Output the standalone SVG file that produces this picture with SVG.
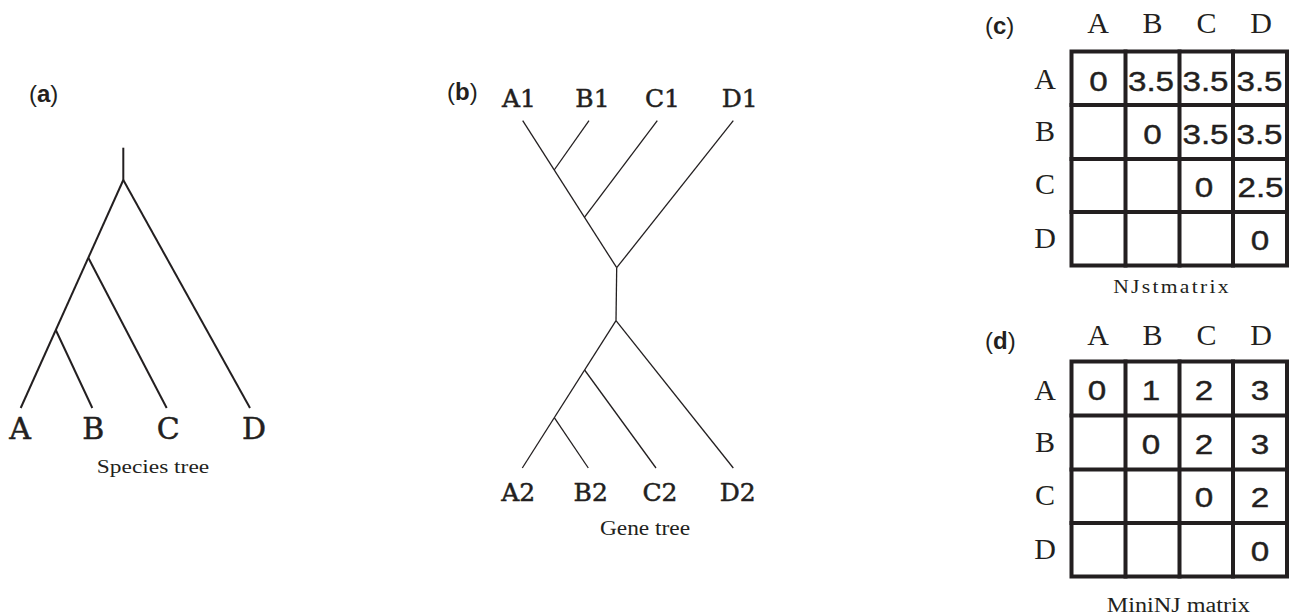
<svg xmlns="http://www.w3.org/2000/svg" width="1293" height="616" viewBox="0 0 1293 616">
  <style>
    .panel { font-family: "Liberation Sans", Arial, sans-serif; font-size: 24px; fill: #231f20; }
    .panel .b { font-weight: bold; }
    .tip { font-family: "DejaVu Serif", "Liberation Serif", serif; fill: #231f20; stroke: #231f20; stroke-width: 0.5; text-anchor: middle; }
    .cap { font-family: "Liberation Serif", "DejaVu Serif", serif; fill: #231f20; text-anchor: middle; }
    .hdr { font-family: "Liberation Serif", "DejaVu Serif", serif; font-size: 30px; fill: #231f20; text-anchor: middle; }
    .num { font-family: "Liberation Sans", Arial, sans-serif; font-size: 27px; fill: #231f20; stroke: #231f20; stroke-width: 0.4; text-anchor: middle; }
    .sp { stroke: #231f20; stroke-width: 2; fill: none; stroke-linecap: butt; }
    .gt { stroke: #231f20; stroke-width: 1.3; fill: none; }
    .grid { stroke: #231f20; stroke-width: 4; fill: none; stroke-linecap: square; }
  </style>

  <rect width="1293" height="616" fill="#ffffff"/>

  <!-- (a) species tree -->
  <g id="species-tree">
    <text class="panel" x="29" y="102">(<tspan class="b">a</tspan>)</text>
    <g id="species-branches" class="sp">
      <line x1="123.3" y1="147.7" x2="123.3" y2="180"/>
      <line x1="123.3" y1="180" x2="20.7" y2="408"/>
      <line x1="123.3" y1="180" x2="250" y2="408"/>
      <line x1="88.3" y1="257.7" x2="166.7" y2="408"/>
      <line x1="55.8" y1="330" x2="92.3" y2="408"/>
    </g>
    <g id="species-tips" class="tip" font-size="30">
      <text x="20" y="439">A</text>
      <text x="93.3" y="439">B</text>
      <text x="168.3" y="439">C</text>
      <text x="254" y="439">D</text>
    </g>
    <text class="cap" font-size="19.5" transform="translate(153 473) scale(1.2 1)">Species tree</text>
  </g>

  <!-- (b) gene tree -->
  <g id="gene-tree">
    <text class="panel" x="447" y="100">(<tspan class="b">b</tspan>)</text>
    <g id="gene-branches" class="gt">
      <line x1="522.7" y1="120.7" x2="616.7" y2="267.7"/>
      <line x1="733.3" y1="120.7" x2="616.7" y2="267.7"/>
      <line x1="589" y1="120.7" x2="554.2" y2="170"/>
      <line x1="657.3" y1="120.7" x2="584.4" y2="217.3"/>
      <line x1="616.7" y1="267.7" x2="616" y2="320.7"/>
      <line x1="616" y1="320.7" x2="522.3" y2="468"/>
      <line x1="616" y1="320.7" x2="733.3" y2="468"/>
      <line x1="584.6" y1="370" x2="656" y2="468"/>
      <line x1="554.3" y1="417.7" x2="588.3" y2="468"/>
    </g>
    <g id="gene-tips" class="tip" font-size="25">
      <text x="519" y="107">A1</text>
      <text x="592.5" y="107">B1</text>
      <text x="662.5" y="107">C1</text>
      <text x="739.7" y="107">D1</text>
      <text x="518.3" y="500.7">A2</text>
      <text x="590.7" y="500.7">B2</text>
      <text x="660" y="500.7">C2</text>
      <text x="737.8" y="500.7">D2</text>
    </g>
    <text class="cap" font-size="20" transform="translate(645 535) scale(1.17 1)">Gene tree</text>
  </g>

  <!-- (c) NJst matrix -->
  <g id="njst-matrix">
    <text class="panel" x="985" y="33.5">(<tspan class="b">c</tspan>)</text>
    <g class="hdr">
      <text x="1098" y="33.3">A</text>
      <text x="1152.5" y="33.3">B</text>
      <text x="1206.5" y="33.3">C</text>
      <text x="1261" y="33.3">D</text>
      <text x="1045" y="88.5">A</text>
      <text x="1045" y="140.5">B</text>
      <text x="1045" y="193.5">C</text>
      <text x="1045" y="248">D</text>
    </g>
    <g class="grid">
      <rect x="1071.5" y="51.5" width="215.5" height="214"/>
      <line x1="1125.5" y1="51.5" x2="1125.5" y2="265.5"/>
      <line x1="1179.5" y1="51.5" x2="1179.5" y2="265.5"/>
      <line x1="1233" y1="51.5" x2="1233" y2="265.5"/>
      <line x1="1071.5" y1="105" x2="1287" y2="105"/>
      <line x1="1071.5" y1="159" x2="1287" y2="159"/>
      <line x1="1071.5" y1="212" x2="1287" y2="212"/>
    </g>
    <g class="num">
      <text transform="translate(1098.5 90.5) scale(1.23 1)">0</text>
      <text transform="translate(1151 90.5) scale(1.23 1)">3.5</text>
      <text transform="translate(1205.5 90.5) scale(1.23 1)">3.5</text>
      <text transform="translate(1259.5 90.5) scale(1.23 1)">3.5</text>
      <text transform="translate(1152.5 143.5) scale(1.23 1)">0</text>
      <text transform="translate(1205.5 143.5) scale(1.23 1)">3.5</text>
      <text transform="translate(1259.5 143.5) scale(1.23 1)">3.5</text>
      <text transform="translate(1204 196.5) scale(1.23 1)">0</text>
      <text transform="translate(1260.5 196.5) scale(1.23 1)">2.5</text>
      <text transform="translate(1260 250) scale(1.23 1)">0</text>
    </g>
    <text class="cap" font-size="18" letter-spacing="1.9" transform="translate(1172 293.3) scale(1.2 1)">NJstmatrix</text>
  </g>

  <!-- (d) MiniNJ matrix -->
  <g id="mininj-matrix">
    <text class="panel" x="985" y="348.5">(<tspan class="b">d</tspan>)</text>
    <g class="hdr">
      <text x="1098" y="345">A</text>
      <text x="1152.5" y="345">B</text>
      <text x="1206.5" y="345">C</text>
      <text x="1261" y="345">D</text>
      <text x="1045" y="400">A</text>
      <text x="1045" y="452">B</text>
      <text x="1045" y="505">C</text>
      <text x="1045" y="558.5">D</text>
    </g>
    <g class="grid">
      <rect x="1071.5" y="361.5" width="215.5" height="215"/>
      <line x1="1125.5" y1="361.5" x2="1125.5" y2="576.5"/>
      <line x1="1179.5" y1="361.5" x2="1179.5" y2="576.5"/>
      <line x1="1233" y1="361.5" x2="1233" y2="576.5"/>
      <line x1="1071.5" y1="415.5" x2="1287" y2="415.5"/>
      <line x1="1071.5" y1="469.5" x2="1287" y2="469.5"/>
      <line x1="1071.5" y1="523" x2="1287" y2="523"/>
    </g>
    <g class="num">
      <text transform="translate(1097 399.5) scale(1.23 1)">0</text>
      <text transform="translate(1151 399.5) scale(1.23 1)">1</text>
      <text transform="translate(1204 399.5) scale(1.23 1)">2</text>
      <text transform="translate(1260 399.5) scale(1.23 1)">3</text>
      <text transform="translate(1151 453.5) scale(1.23 1)">0</text>
      <text transform="translate(1204 453.5) scale(1.23 1)">2</text>
      <text transform="translate(1260 453.5) scale(1.23 1)">3</text>
      <text transform="translate(1204 507.3) scale(1.23 1)">0</text>
      <text transform="translate(1260 507.3) scale(1.23 1)">2</text>
      <text transform="translate(1260 561) scale(1.23 1)">0</text>
    </g>
    <text class="cap" font-size="20" transform="translate(1178.3 611.7) scale(1.21 1)">MiniNJ matrix</text>
  </g>
</svg>
